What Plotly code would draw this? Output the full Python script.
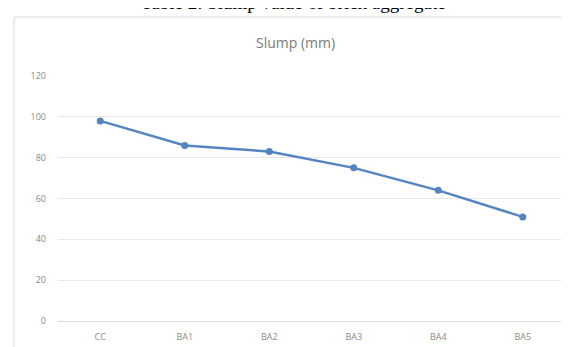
import plotly.graph_objects as go

categories = ["CC", "BA1", "BA2", "BA3", "BA4", "BA5"]
slump_mm = [98, 86, 83, 75, 64, 51]
y_ticks = [0, 20, 40, 60, 80, 100, 120]

W, H = 569, 347
ml, mr, mt, mb = 50, 12, 68, 34
pw, ph = W - ml - mr, H - mt - mb

def px_x(x):
    return (x - ml) / pw

def px_y(y):
    return (H - mb - y) / ph

fig = go.Figure()
fig.add_trace(go.Scatter(
    x=categories, y=slump_mm, mode="lines+markers",
    line=dict(color="#5585c0", width=2.5),
    marker=dict(color="#5585c0", size=7),
    showlegend=False,
))

fig.update_layout(
    width=W, height=H,
    margin=dict(l=ml, r=mr, t=mt, b=mb),
    paper_bgcolor="white", plot_bgcolor="white",
    font=dict(family="Open Sans, Noto Sans, sans-serif", color="#8a8a8a", size=9),
    xaxis=dict(
        type="category", range=[-0.5, len(categories) - 0.5],
        showgrid=False, zeroline=False, showline=False,
        tickfont=dict(size=9, color="#8a8a8a"), ticklabelstandoff=9,
    ),
    yaxis=dict(
        range=[0, 120], tickvals=y_ticks, showgrid=True, gridcolor="#e8e8e8",
        gridwidth=1, zeroline=True, zerolinecolor="#dcdcdc", zerolinewidth=1,
        showline=False, tickfont=dict(size=9, color="#8a8a8a"), ticklabelstandoff=11,
    ),
    shapes=[dict(
        type="rect", xref="paper", yref="paper",
        x0=px_x(6), x1=px_x(563), y0=px_y(345), y1=px_y(9),
        line=dict(color="#d9d9d9", width=1), fillcolor="rgba(0,0,0,0)", layer="below",
    )],
    annotations=[
        dict(text="Slump (mm)", xref="paper", yref="paper",
             x=px_x(287), y=px_y(35), xanchor="center", yanchor="middle",
             showarrow=False, font=dict(size=14, color="#7a7a7a",
                                        family="Open Sans, Noto Sans, sans-serif")),
        dict(text="Table 2: Slump value of brick aggregate", xref="paper", yref="paper",
             x=px_x(285), y=px_y(7), xanchor="center", yanchor="bottom",
             showarrow=False, font=dict(size=19, color="#000000",
                                        family="Liberation Serif, Times New Roman, serif")),
    ],
)

fig.write_html("out.html")
